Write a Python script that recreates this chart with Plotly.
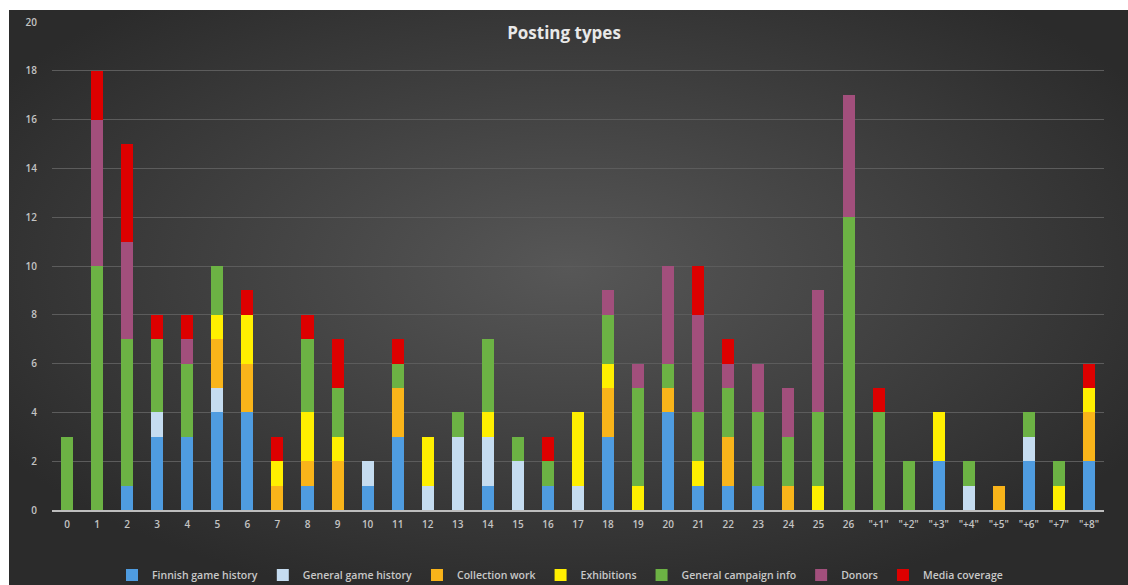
import base64
import plotly.graph_objects as go

categories = [str(i) for i in range(27)] + ['"+%d"' % i for i in range(1, 9)]

finnish_game_history = [0, 0, 1, 3, 3, 4, 4, 0, 1, 0, 1, 3, 0, 0, 1, 0, 1, 0, 3, 0, 4, 1, 1, 1, 0, 0, 0,
                        0, 0, 2, 0, 0, 2, 0, 2]
general_game_history = [0, 0, 0, 1, 0, 1, 0, 0, 0, 0, 1, 0, 1, 3, 2, 2, 0, 1, 0, 0, 0, 0, 0, 0, 0, 0, 0,
                        0, 0, 0, 1, 0, 1, 0, 0]
collection_work = [0, 0, 0, 0, 0, 2, 2, 1, 1, 2, 0, 2, 0, 0, 0, 0, 0, 0, 2, 0, 1, 0, 2, 0, 1, 0, 0,
                   0, 0, 0, 0, 1, 0, 0, 2]
exhibitions = [0, 0, 0, 0, 0, 1, 2, 1, 2, 1, 0, 0, 2, 0, 1, 0, 0, 3, 1, 1, 0, 1, 0, 0, 0, 1, 0,
               0, 0, 2, 0, 0, 0, 1, 1]
general_campaign_info = [3, 10, 6, 3, 3, 2, 0, 0, 3, 2, 0, 1, 0, 1, 3, 1, 1, 0, 2, 4, 1, 2, 2, 3, 2, 3, 12,
                         4, 2, 0, 1, 0, 1, 1, 0]
donors = [0, 6, 4, 0, 1, 0, 0, 0, 0, 0, 0, 0, 0, 0, 0, 0, 0, 0, 1, 1, 4, 4, 1, 2, 2, 5, 5,
          0, 0, 0, 0, 0, 0, 0, 0]
media_coverage = [0, 2, 4, 1, 1, 0, 1, 1, 1, 2, 0, 1, 0, 0, 0, 0, 1, 0, 0, 0, 0, 2, 1, 0, 0, 0, 0,
                  1, 0, 0, 0, 0, 0, 0, 1]

series_names = ["Finnish game history", "General game history", "Collection work", "Exhibitions",
                "General campaign info", "Donors", "Media coverage"]
series_values = [finnish_game_history, general_game_history, collection_work, exhibitions,
                 general_campaign_info, donors, media_coverage]
series_colors = ["#4f9ce0", "#c5dcf0", "#f9b41a", "#ffef00", "#6cb244", "#a24f7c", "#dd0000"]

fig = go.Figure()
for name, vals, col in zip(series_names, series_values, series_colors):
    fig.add_trace(go.Bar(x=categories, y=vals, name=name, marker=dict(color=col, line=dict(width=0))))

svg = ('<svg xmlns="http://www.w3.org/2000/svg" width="1119" height="575" preserveAspectRatio="none">'
       '<defs><radialGradient id="g" cx="50%" cy="45%" r="60%">'
       '<stop offset="0%" stop-color="#575757"/><stop offset="100%" stop-color="#2b2b2b"/>'
       '</radialGradient></defs><rect width="1119" height="575" fill="url(#g)"/></svg>')
uri = "data:image/svg+xml;base64," + base64.b64encode(svg.encode()).decode()

L, R, T, B = 52, 1104, 22, 510
W, H = R - L, B - T
def px(x):
    return (x - L) / W
def py(y):
    return (B - y) / H

fig.update_layout(
    width=1128, height=585,
    margin=dict(l=L, r=1128 - R, t=T, b=585 - B, autoexpand=False),
    paper_bgcolor="white",
    plot_bgcolor="rgba(0,0,0,0)",
    barmode="stack",
    bargap=0.6,
    font=dict(family="Open Sans, sans-serif", size=10, color="#c4c4c4"),
    title=dict(text="<b>Posting types</b>", x=0.5, xref="container", xanchor="center",
               y=1 - 33 / 585, yref="container", yanchor="middle",
               font=dict(family="Open Sans, sans-serif", size=17, color="#e8e8e8")),
    legend=dict(orientation="h", x=px(560), xanchor="center", y=py(575), yanchor="middle",
                font=dict(size=10.5, color="#c8c8c8", weight=600), bgcolor="rgba(0,0,0,0)",
                traceorder="normal", itemwidth=30),
    images=[dict(source=uri, xref="paper", yref="paper", x=px(9), y=py(10),
                 sizex=px(1128) - px(9), sizey=py(10) - py(585), sizing="stretch",
                 xanchor="left", yanchor="top", layer="below")],
    xaxis=dict(type="category", showgrid=False, showline=True, linecolor="#bdbdbd", linewidth=1.5,
               ticks="", tickfont=dict(size=10, color="#c4c4c4", weight=600), ticklabelstandoff=4,
               zeroline=False),
    yaxis=dict(range=[0, 20], dtick=2, showgrid=True, gridcolor="#5c5c5c", gridwidth=1,
               zeroline=False, showline=False, ticks="", ticklabelstandoff=14,
               tickfont=dict(size=10, color="#c4c4c4", weight=600)),
)

fig.write_html("out.html")
